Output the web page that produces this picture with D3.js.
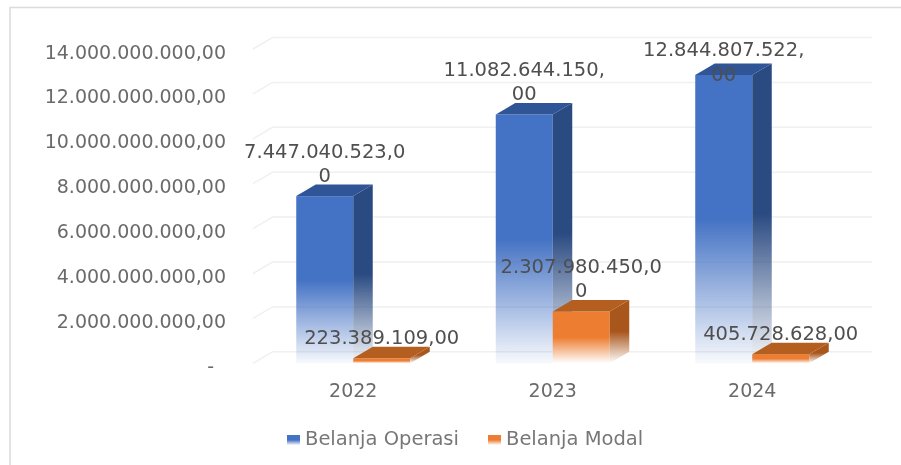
<!DOCTYPE html>
<html>
<head>
<meta charset="utf-8">
<style>
  html, body { margin: 0; padding: 0; background: #fff; overflow: hidden; }
  svg { display: block; filter: blur(0.6px); }
  text { font-family: "DejaVu Sans", sans-serif; font-size: 19px; }
  .tick text { fill: #6a6a6a; }
  .data-label { fill: #4f4f4f; font-size: 19.5px; }
  .legend-label { fill: #777; font-size: 19.5px; }
</style>
</head>
<body>
<svg id="chart" width="901" height="465"></svg>
<script src="https://cdn.jsdelivr.net/npm/d3@7"></script>
<script>
const categories = ["2022", "2023", "2024"];
const seriesNames = ["Belanja Operasi", "Belanja Modal"];
const belanjaOperasi = [7447040523, 11082644150, 12844807522];
const belanjaModal = [223389109, 2307980450, 405728628];
const yTicks = [0, 2e9, 4e9, 6e9, 8e9, 10e9, 12e9, 14e9];

const svg = d3.select("#chart");
const defs = svg.append("defs");

const depthX = 19.5;
const depthY = 11.5;
const labelWrap = 15; // chars before a data label breaks onto a second line
const labelTop = 56; // highest baseline a data label may use

const x = d3.scaleBand().domain(categories).range([253.5, 852]);
const xInner = d3.scaleBand().domain(seriesNames).range([-57, 57]);
const y = d3.scaleLinear().domain([0, 14e9]).range([363.3, 49]);

const fmt = d3.formatLocale({
  decimal: ",", thousands: ".", grouping: [3], currency: ["", ""],
}).format(",.2f");

// ── Gradients ─────────────────────────────────────────────────────────────────
// orange ends in solid white so the blue side behind it does not show through
const colors = [
  { id: "blue-front", color: "#4472c4", end: "#4472c4", endOpacity: 0.04 },
  { id: "blue-side", color: "#2a4a82", end: "#2a4a82", endOpacity: 0.04 },
  { id: "orange-front", color: "#ed7d31", end: "#ffffff", endOpacity: 1 },
  { id: "orange-side", color: "#a9561d", end: "#ffffff", endOpacity: 1 },
];
colors.forEach((c) => {
  const g = defs.append("linearGradient")
    .attr("id", c.id).attr("x1", 0).attr("y1", 0).attr("x2", 0).attr("y2", 1);
  g.append("stop").attr("offset", 0).attr("stop-color", c.color);
  g.append("stop").attr("offset", 0.5).attr("stop-color", c.color);
  g.append("stop").attr("offset", 1).attr("stop-color", c.end).attr("stop-opacity", c.endOpacity);
});

// ── Frame ─────────────────────────────────────────────────────────────────────
svg.append("path")
  .attr("d", "M10,465V7.5H901")
  .attr("fill", "none")
  .attr("stroke", "#dcdcdc")
  .attr("stroke-width", 1.6);

// ── Gridlines ─────────────────────────────────────────────────────────────────
svg.append("g").selectAll("path")
  .data(yTicks)
  .join("path")
  .attr("d", (d) => `M253,${y(d)}l${depthX},${-depthY}H872`)
  .attr("fill", "none")
  .attr("stroke", "#f0f0f0")
  .attr("stroke-width", 1.5);

// ── Axes ──────────────────────────────────────────────────────────────────────
const yAxis = svg.append("g")
  .attr("transform", "translate(226,0)")
  .call(d3.axisLeft(y).tickValues(yTicks).tickSize(0).tickPadding(0)
    .tickFormat((d) => d === 0 ? "-" : fmt(d)));
yAxis.select(".domain").remove();
yAxis.selectAll("text")
  .attr("font-family", null).attr("font-size", null)
  .attr("dy", 9)
  .attr("x", (d) => d === 0 ? -12 : 0);

const xAxis = svg.append("g")
  .attr("transform", "translate(0,363.3)")
  .call(d3.axisBottom(x).tickSize(0).tickPadding(0));
xAxis.select(".domain").remove();
xAxis.selectAll("text")
  .attr("font-family", null).attr("font-size", null)
  .attr("y", 34).attr("dy", 0);

// ── Bars ──────────────────────────────────────────────────────────────────────
const rows = [
  { name: seriesNames[0], values: belanjaOperasi, key: "blue" },
  { name: seriesNames[1], values: belanjaModal, key: "orange" },
];
const topColor = { blue: "#2f5597", orange: "#b45f20" };

rows.forEach((s) => {
  const bars = svg.append("g").selectAll("g")
    .data(s.values.map((v, i) => ({ v, cat: categories[i] })))
    .join("g");
  const left = (d) => x(d.cat) + x.bandwidth() / 2 + xInner(s.name);
  const w = xInner.bandwidth();

  bars.append("rect")
    .attr("x", left)
    .attr("y", (d) => y(d.v))
    .attr("width", w)
    .attr("height", (d) => y(0) - y(d.v))
    .attr("fill", `url(#${s.key}-front)`);

  bars.append("path")
    .attr("d", (d) => `M${left(d) + w},${y(d.v)}l${depthX},${-depthY}V${y(0) - depthY}l${-depthX},${depthY}Z`)
    .attr("fill", `url(#${s.key}-side)`);

  bars.append("path")
    .attr("d", (d) => `M${left(d)},${y(d.v)}l${depthX},${-depthY}h${w}l${-depthX},${depthY}Z`)
    .attr("fill", topColor[s.key]);
});

// ── Data labels ───────────────────────────────────────────────────────────────
const lineHeight = 24.5;
rows.forEach((s) => {
  s.values.forEach((v, i) => {
    const txt = fmt(v);
    const lines = [txt.slice(0, labelWrap), txt.slice(labelWrap)].filter((l) => l);
    const cx = x(categories[i]) + x.bandwidth() / 2 + xInner(s.name) + xInner.bandwidth() / 2;
    const first = Math.max(labelTop, y(v) - 14 - lineHeight * (lines.length - 1));
    lines.forEach((l, j) => {
      svg.append("text")
        .attr("class", "data-label")
        .attr("x", cx)
        .attr("y", first + j * lineHeight)
        .attr("text-anchor", "middle")
        .text(l);
    });
  });
});

// ── Legend ────────────────────────────────────────────────────────────────────
const legendX = d3.scaleOrdinal().domain(seriesNames).range([287, 488]);
const legend = svg.append("g").selectAll("g")
  .data(rows)
  .join("g")
  .attr("transform", (d) => `translate(${legendX(d.name)},435)`);
legend.append("rect")
  .attr("width", 13).attr("height", 10)
  .attr("fill", (d) => `url(#${d.key}-front)`);
legend.append("text")
  .attr("class", "legend-label")
  .attr("x", 18).attr("y", 10)
  .text((d) => d.name);
</script>
</body>
</html>
